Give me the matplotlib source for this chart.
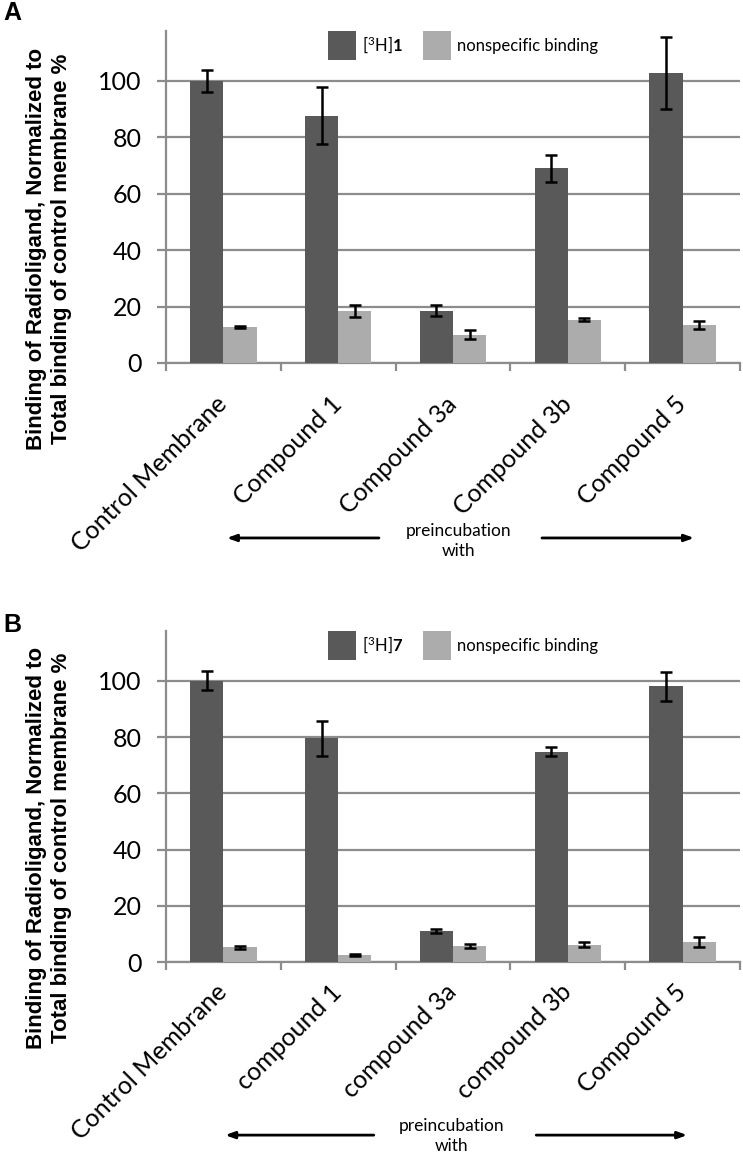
import matplotlib
matplotlib.use("Agg")
import matplotlib.pyplot as plt
import numpy as np

plt.rcParams['font.family'] = ['Lato', 'DejaVu Sans']
plt.rcParams['mathtext.fontset'] = 'custom'
plt.rcParams['mathtext.rm'] = 'Lato'
plt.rcParams['mathtext.it'] = 'Lato'
plt.rcParams['mathtext.bf'] = 'Lato:bold'

# ---------------- data ----------------
categories_a = ["Control Membrane", "Compound 1", "Compound 3a", "Compound 3b", "Compound 5"]
categories_b = ["Control Membrane", "compound 1", "compound 3a", "compound 3b", "Compound 5"]

a_specific = [100.0, 87.7, 18.5, 69.0, 102.8]
a_specific_err = [4.0, 10.0, 2.0, 4.8, 12.8]
a_nonspec = [12.8, 18.4, 10.0, 15.4, 13.4]
a_nonspec_err = [0.3, 2.0, 1.6, 0.4, 1.5]

b_specific = [100.0, 79.5, 11.0, 74.8, 98.0]
b_specific_err = [3.3, 6.2, 0.7, 1.5, 5.2]
b_nonspec = [5.2, 2.4, 5.6, 6.2, 7.2]
b_nonspec_err = [0.4, 0.3, 0.7, 1.0, 1.8]

yticks = [0, 20, 40, 60, 80, 100]

DARK = "#595959"
LIGHT = "#acacac"
GRID = "#8c8c8c"

W, H = 743, 1155
fig = plt.figure(figsize=(W / 100, H / 100), dpi=100)


def make_panel(rect, cats, spec, spec_err, nons, nons_err, leg_label, letter, letter_y,
               arrow_y, arrow_x, text_xy, ylabel_y, label_pad):
    ax = fig.add_axes(rect)
    n = len(cats)
    x = np.arange(n) + 0.5
    bw = 0.29
    ekw = dict(ecolor="black", elinewidth=1.8, capthick=1.8)
    ax.bar(x - bw / 2, spec, bw, color=DARK, yerr=spec_err, capsize=4.5,
           error_kw=ekw, label=leg_label, zorder=3)
    ax.bar(x + bw / 2, nons, bw, color=LIGHT, yerr=nons_err, capsize=4.5,
           error_kw=ekw, label="nonspecific binding", zorder=3)
    ax.set_xlim(0, n)
    ax.set_ylim(0, 117.7)
    ax.set_yticks(yticks)
    ax.set_yticklabels([str(v) for v in yticks], fontsize=18)
    ax.yaxis.grid(True, color=GRID, linewidth=1.6, zorder=0)
    ax.set_axisbelow(True)
    for s in ["top", "right"]:
        ax.spines[s].set_visible(False)
    for s in ["left", "bottom"]:
        ax.spines[s].set_color(GRID)
        ax.spines[s].set_linewidth(1.6)
    ax.tick_params(axis="y", length=6.5, width=1.6, color=GRID, pad=11, labelcolor="black")
    # category labels at centers, boundary ticks as minor
    ax.set_xticks(x)
    ax.set_xticklabels(cats, rotation=45, ha="right", va="center",
                       rotation_mode="anchor", fontsize=18)
    ax.tick_params(axis="x", which="major", length=0, pad=label_pad)
    ax.set_xticks(np.arange(n + 1), minor=True)
    ax.tick_params(axis="x", which="minor", length=6, width=1.6, color=GRID)

    ax.legend(loc="upper left", bbox_to_anchor=(0.27, 1.02), ncol=2, frameon=False,
              fontsize=12, handlelength=1.7, handleheight=2.3,
              handletextpad=0.35, columnspacing=1.2, borderaxespad=0)

    # panel letter
    fig.text(3 / W, 1 - letter_y / H, letter, fontsize=18, fontweight="bold",
             family="Liberation Sans", ha="left", va="center")
    # y label
    fig.text(49 / W, 1 - ylabel_y / H,
             "Binding of Radioligand, Normalized to\nTotal binding of control membrane %",
             rotation=90, ha="center", va="center", fontsize=16, fontweight="bold",
             family="Liberation Sans", linespacing=1.25)
    # preincubation arrows
    akw = dict(arrowstyle="-|>,head_length=0.55,head_width=0.2", color="black", lw=2,
               shrinkA=0, shrinkB=0)
    ax.annotate("", xy=(arrow_x[0], arrow_y), xytext=(arrow_x[1], arrow_y),
                xycoords="axes fraction", textcoords="axes fraction",
                arrowprops=akw, annotation_clip=False)
    ax.annotate("", xy=(arrow_x[3], arrow_y), xytext=(arrow_x[2], arrow_y),
                xycoords="axes fraction", textcoords="axes fraction",
                arrowprops=akw, annotation_clip=False)
    ax.text(text_xy[0], text_xy[1], "preincubation\nwith", transform=ax.transAxes,
            ha="center", va="center", fontsize=12.5, linespacing=1.35)
    return ax


axA = make_panel([166 / W, 1 - 363 / H, 574 / W, 332 / H], categories_a,
                 a_specific, a_specific_err, a_nonspec, a_nonspec_err,
                 r"[$^{3}$H]$\mathbf{1}$", "A", 13,
                 -0.527, (0.106, 0.371, 0.655, 0.92), (0.509, -0.536), 249, 27)
axB = make_panel([166 / W, 1 - 962 / H, 574 / W, 331 / H], categories_b,
                 b_specific, b_specific_err, b_nonspec, b_nonspec_err,
                 r"[$^{3}$H]$\mathbf{7}$", "B", 625,
                 -0.523, (0.103, 0.362, 0.645, 0.908), (0.497, -0.526), 848, 19)

fig.savefig("out.png", dpi=100)
